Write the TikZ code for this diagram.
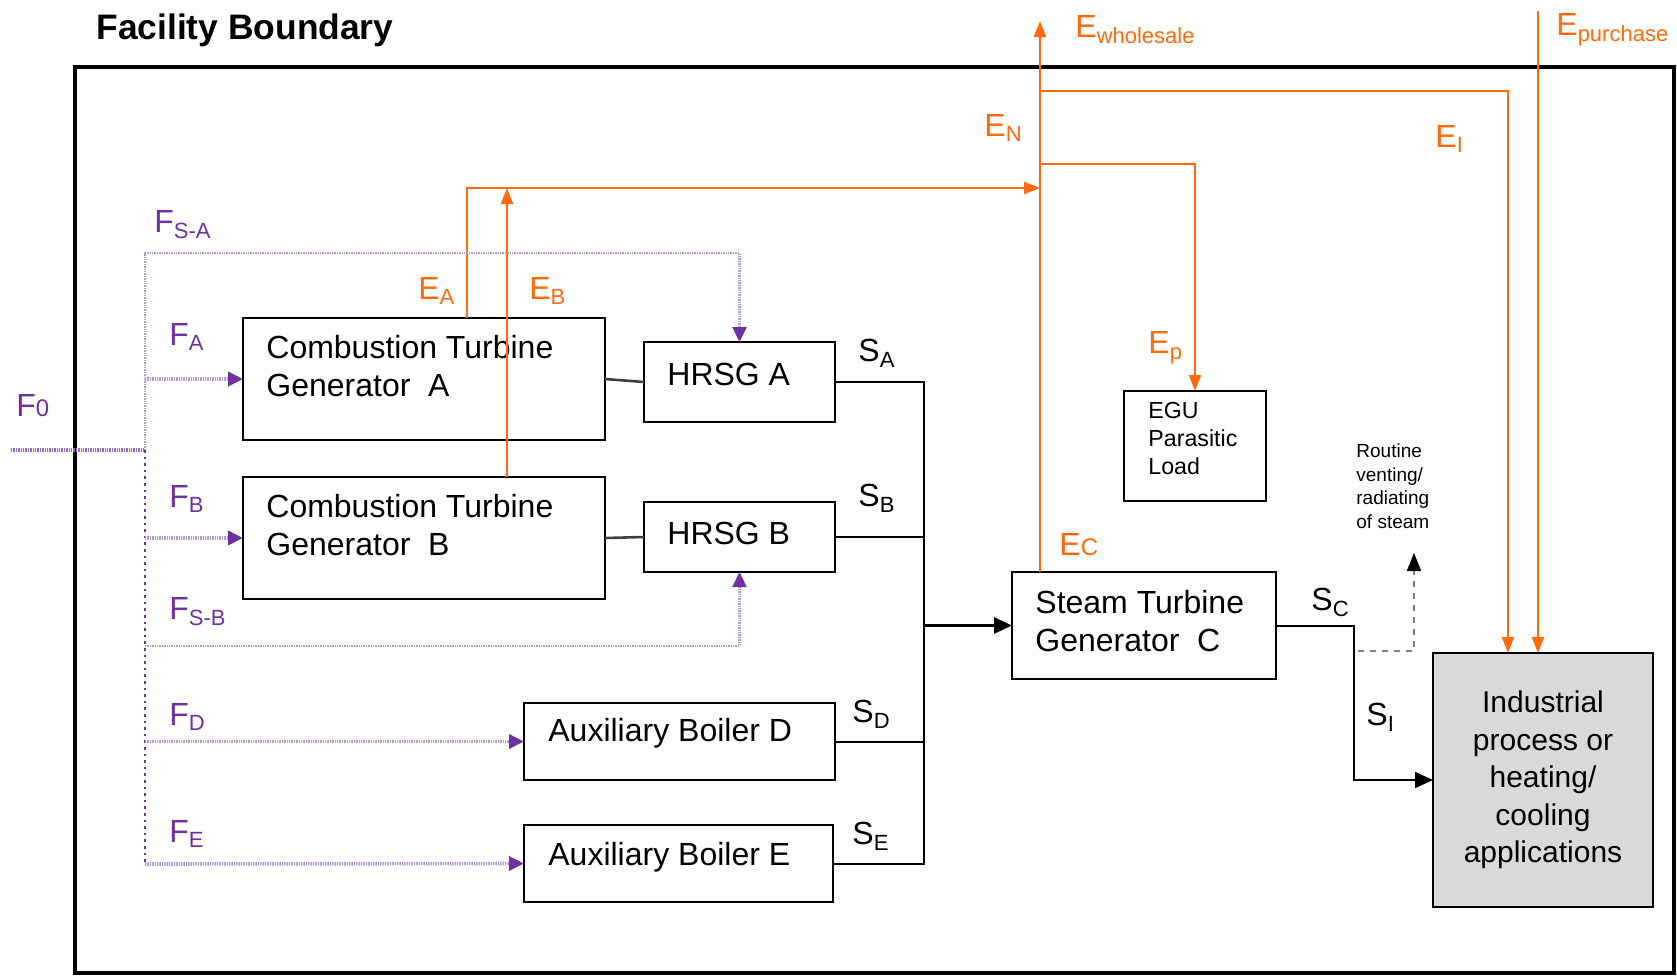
\documentclass[tikz,border=0pt]{standalone}
\usepackage{fontspec}
\setmainfont{Liberation Sans}
\usetikzlibrary{arrows.meta}
\definecolor{elecorange}{HTML}{FF6A0D}
\definecolor{fuelpurple}{HTML}{7030A0}
\definecolor{fuellight}{HTML}{B09AD2}
\definecolor{fuelmid}{HTML}{8E6BBF}
\definecolor{indgray}{HTML}{D9D9D9}
\newcommand{\fl}[2]{#1\raisebox{-0.35ex}{\fontsize{11}{11}\selectfont #2}}
\newcommand{\fsm}[2]{#1{\fontsize{12}{12}\selectfont #2}}
\begin{document}
\begin{tikzpicture}[x=0.5pt, y=-0.5pt,
    unit/.style = {draw, line width=1pt, inner sep=0pt, outer sep=0pt},
    sz/.style 2 args = {minimum width=#1*0.5pt, minimum height=#2*0.5pt},
    unittext/.style = {anchor=west, align=left, inner sep=0pt, font=\fontsize{16}{19}\selectfont},
    flab/.style = {anchor=west, inner sep=0pt, text=fuelpurple, font=\fontsize{16}{18}\selectfont},
    elab/.style = {flab, text=elecorange},
    slab/.style = {flab, text=black},
    steam/.style = {draw, line width=1pt},
    stip/.style = {-{Triangle[length=9pt, width=8pt]}},
    elec/.style = {draw=elecorange, line width=1pt, -{Triangle[length=8pt, width=6pt]}},
    fuel/.style = {draw=fuellight, line width=1.8pt, dash pattern=on 0.7pt off 0.5pt},
    ftip/.style = {-{Triangle[length=7.5pt, width=7pt, color=fuelpurple]}}
  ]
  \useasboundingbox (0,0) rectangle (1677,976);
  \draw[line width=2.2pt] (75,67) rectangle (1674,973);
  \node[anchor=west, inner sep=0pt, font=\fontsize{17.7}{20}\selectfont\bfseries] (title) at (96,30) {Facility Boundary};

  % units
  \node[unit, sz={362}{122}] (ctgA) at (424,379) {};
  \node[unittext] (ctgAtxt) at (266,366.5) {Combustion Turbine\\Generator\ \ A};
  \node[unit, sz={362}{122}] (ctgB) at (424,538) {};
  \node[unittext] (ctgBtxt) at (266,525.5) {Combustion Turbine\\Generator\ \ B};
  \node[unit, sz={191}{80}] (hrsgA) at (739.5,382) {};
  \node[unittext] (hrsgAtxt) at (667,374) {HRSG A};
  \node[unit, sz={191}{70}] (hrsgB) at (739.5,537) {};
  \node[unittext] (hrsgBtxt) at (667,533) {HRSG B};
  \node[unit, sz={311}{77}] (auxD) at (679.5,741.5) {};
  \node[unittext] (auxDtxt) at (548,733) {Auxiliary Boiler D};
  \node[unit, sz={309}{77}] (auxE) at (678.5,863.5) {};
  \node[unittext] (auxEtxt) at (548,857) {Auxiliary Boiler E};
  \node[unit, sz={264}{107}] (stgC) at (1144,625.5) {};
  \node[unittext] (stgCtxt) at (1035,621) {Steam Turbine\\Generator\ \ C};
  \node[unit, sz={142}{110}] (egu) at (1195,446) {};
  \node[unittext, font=\fontsize{11.6}{14}\selectfont] (egutxt) at (1148,439) {EGU\\Parasitic\\Load};
  \node[unit, fill=indgray, sz={220}{254}, align=center, font=\fontsize{15}{18.75}\selectfont] (ind) at (1543,780) {Industrial\\process or\\heating/\\cooling\\applications};
  \node[unittext, font=\fontsize{9.5}{11.75}\selectfont] (vent) at (1356,486) {Routine\\venting/\\radiating\\of steam};

  % steam
  \coordinate (bus) at (924,625.5);
  \foreach \s in {hrsgA,hrsgB,auxD,auxE}
    \draw[steam] (\s.east) -| (bus);
  \draw[steam, line width=1.6pt, stip] (bus) -- (stgC.west);
  \draw[steam, draw=darkgray, line width=1.3pt] (ctgA.east) -- (hrsgA.west);
  \draw[steam, draw=darkgray, line width=1.3pt] (ctgB.east) -- (hrsgB.west);
  \coordinate (sc) at (1354,625.5);
  \draw[steam, stip] (stgC.east) -- (sc) |- (ind.west);
  \coordinate (vent0) at (1358,651);
  \coordinate (vent1) at (1414,553);
  \draw[steam, draw=gray, dashed, -{Triangle[length=9pt, width=7pt, color=black]}] (vent0) -| (vent1);

  % electricity
  \coordinate (ec) at ([xshift=14pt]stgC.north west);
  \coordinate (ewh) at (1040,21);
  \coordinate (en) at (1040,188);
  \coordinate (ep) at (1040,164);
  \coordinate (ei) at (1040,91);
  \coordinate (epur) at (1538,11);
  \coordinate (ea) at ([xshift=112pt]ctgA.north west);
  \coordinate (eb) at ([xshift=132pt]ctgB.north west);
  \draw[elec] (ec) -- (ewh);
  \draw[elec] (ea) |- (en);
  \draw[elec] (eb) -- (eb |- en);
  \draw[elec] (ep) -| (egu.north);
  \draw[elec] (ei) -| ([xshift=-17.5pt]ind.north);
  \draw[elec] (epur) -- (epur |- ind.north);

  % fuel
  \coordinate (f0) at (11,450);
  \coordinate (trunk) at (145,450);
  \coordinate (fsa) at (145,253);
  \coordinate (fsb) at (145,646);
  \coordinate (fe) at (145,864);
  \draw[fuel, draw=fuelmid, line width=2.4pt] (f0) -- (trunk);
  \draw[fuel, line width=1.2pt, ftip] (trunk) -- (fsa) -| (hrsgA.north);
  \draw[fuel, draw=fuelpurple, line width=1.3pt, dotted] (trunk) -- (fe);
  \draw[fuel, ftip] (fe) -- (auxE.west);
  \foreach \b in {ctgA,ctgB,auxD}
    \draw[fuel, ftip] (trunk |- \b.west) -- (\b.west);
  \draw[fuel, line width=1.2pt, ftip] (fsb) -| (hrsgB.south);

  % labels
  \node[flab] (lF0) at (16,406) {\fsm{F}{0}};
  \node[flab] (lFSA) at (154,225) {\fl{F}{S-A}};
  \node[flab] (lFA) at (169,337) {\fl{F}{A}};
  \node[flab] (lFB) at (169,499) {\fl{F}{B}};
  \node[flab] (lFSB) at (169,612) {\fl{F}{S-B}};
  \node[flab] (lFD) at (169,717) {\fl{F}{D}};
  \node[flab] (lFE) at (169,834) {\fl{F}{E}};
  \node[elab] (lEA) at (418,291) {\fl{E}{A}};
  \node[elab] (lEB) at (529,291) {\fl{E}{B}};
  \node[elab] (lEN) at (984,128) {\fl{E}{N}};
  \node[elab] (lEW) at (1075,30) {\fl{E}{wholesale}};
  \node[elab] (lEP) at (1556,30) {\fl{E}{purchase}};
  \node[elab] (lEI) at (1435,139) {\fl{E}{I}};
  \node[elab] (lEp) at (1148,348) {\fl{E}{p}};
  \node[elab] (lEC) at (1059,545) {\fsm{E}{C}};
  \node[slab] (lSA) at (858,353) {\fl{S}{A}};
  \node[slab] (lSB) at (858,498) {\fl{S}{B}};
  \node[slab] (lSD) at (852,714) {\fl{S}{D}};
  \node[slab] (lSE) at (852,836) {\fl{S}{E}};
  \node[slab] (lSC) at (1311,602) {\fl{S}{C}};
  \node[slab] (lSI) at (1366,717) {\fl{S}{I}};
\end{tikzpicture}
\end{document}
